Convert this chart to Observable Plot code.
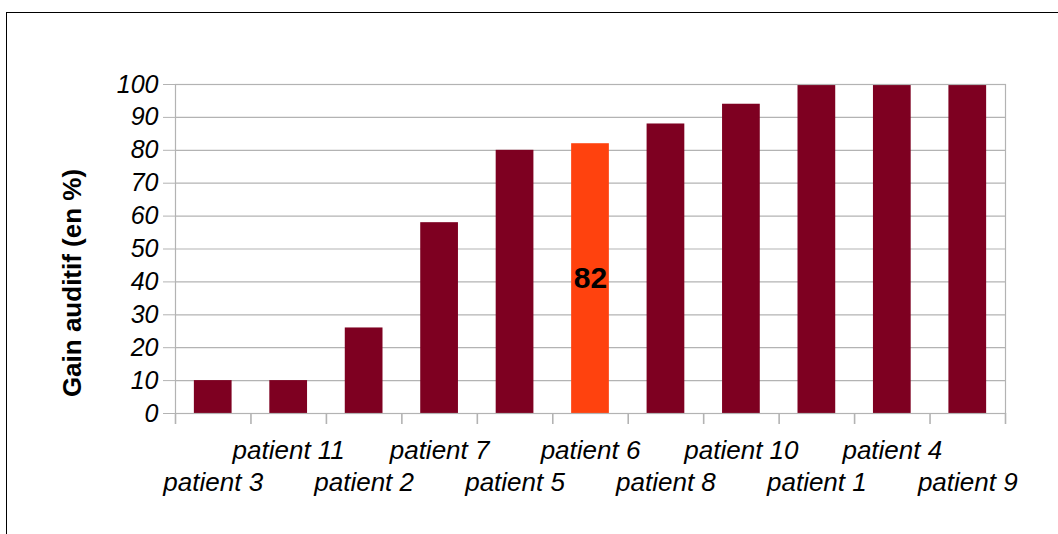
<!DOCTYPE html>
<html><head><meta charset="utf-8">
<script src="https://cdn.jsdelivr.net/npm/d3@7"></script>
<script src="https://cdn.jsdelivr.net/npm/@observablehq/plot@0.6"></script>
<style>
body{margin:0;background:#fff;overflow:hidden}
#wrap{position:relative;width:1058px;height:534px}
#border{position:absolute;left:6px;top:12px;width:1200px;height:700px;border-left:1.6px solid #000;border-top:1.6px solid #000;pointer-events:none}
</style></head><body><div id="wrap"><div id="border"></div></div>
<script>
const patients = ["patient 3","patient 11","patient 2","patient 7","patient 5","patient 6","patient 8","patient 10","patient 1","patient 4","patient 9"];
const gains = [10,10,26,58,80,82,88,94,100,100,100];
const highlighted = ["patient 6"];
const yTicks = [0,10,20,30,40,50,60,70,80,90,100];
const yTitle = "Gain auditif (en %)";

const data = patients.map((p, i) => ({patient: p, gain: gains[i]}));
const W = 1058, H = 534, mt = 84, mb = 121, ml = 175, mr = 53;
const innerH = H - mt - mb;
const step = (W - ml - mr) / patients.length;
const font = "'Liberation Sans', Arial, sans-serif";

const chart = Plot.plot({
  width: W, height: H,
  marginTop: mt, marginBottom: mb, marginLeft: ml, marginRight: mr,
  style: {fontFamily: font, background: "transparent"},
  x: {type: "band", domain: patients, paddingInner: 0.5, paddingOuter: 0.25, round: false, axis: null},
  y: {domain: [0, 100], axis: null},
  color: {type: "identity"},
  marks: [
    Plot.ruleY(yTicks, {stroke: "#b3b3b3", strokeWidth: 1.2}),
    Plot.barY(data, {x: "patient", y: "gain", fill: d => highlighted.includes(d.patient) ? "#ff420e" : "#7e0021"}),
    Plot.frame({stroke: "#b3b3b3", strokeWidth: 1.2}),
    Plot.ruleX(patients, {x: d => d, dx: -step / 2, stroke: "#b3b3b3", strokeWidth: 1.6, insetTop: innerH, insetBottom: -11}),
    Plot.ruleX(patients.slice(-1), {x: d => d, dx: step / 2, stroke: "#b3b3b3", strokeWidth: 1.6, insetTop: innerH, insetBottom: -11}),
    Plot.text(data.filter(d => highlighted.includes(d.patient)), {x: "patient", y: d => d.gain / 2, text: d => String(d.gain), fontSize: 30, fontWeight: "bold", fill: "black", lineAnchor: "middle"}),
    Plot.axisY(yTicks, {tickSize: 12, tickPadding: 5, stroke: "#b3b3b3", fill: "black", fontSize: 25, fontStyle: "italic", label: null, tickFormat: d => String(d)}),
    Plot.axisX(patients.filter((d, i) => i % 2 === 1), {tickSize: 0, tickPadding: 27, fontSize: 26, fontStyle: "italic", fill: "black", label: null}),
    Plot.axisX(patients.filter((d, i) => i % 2 === 0), {tickSize: 0, tickPadding: 59, fontSize: 26, fontStyle: "italic", fill: "black", label: null}),
    Plot.text([yTitle], {frameAnchor: "left", rotate: -90, dx: -103, dy: 34, fontWeight: "bold", fontSize: 26, fill: "black", textAnchor: "middle", lineAnchor: "middle"})
  ]
});
document.getElementById("wrap").prepend(chart);
chart.style.position = "absolute"; chart.style.left = "0"; chart.style.top = "0";
</script></body></html>
